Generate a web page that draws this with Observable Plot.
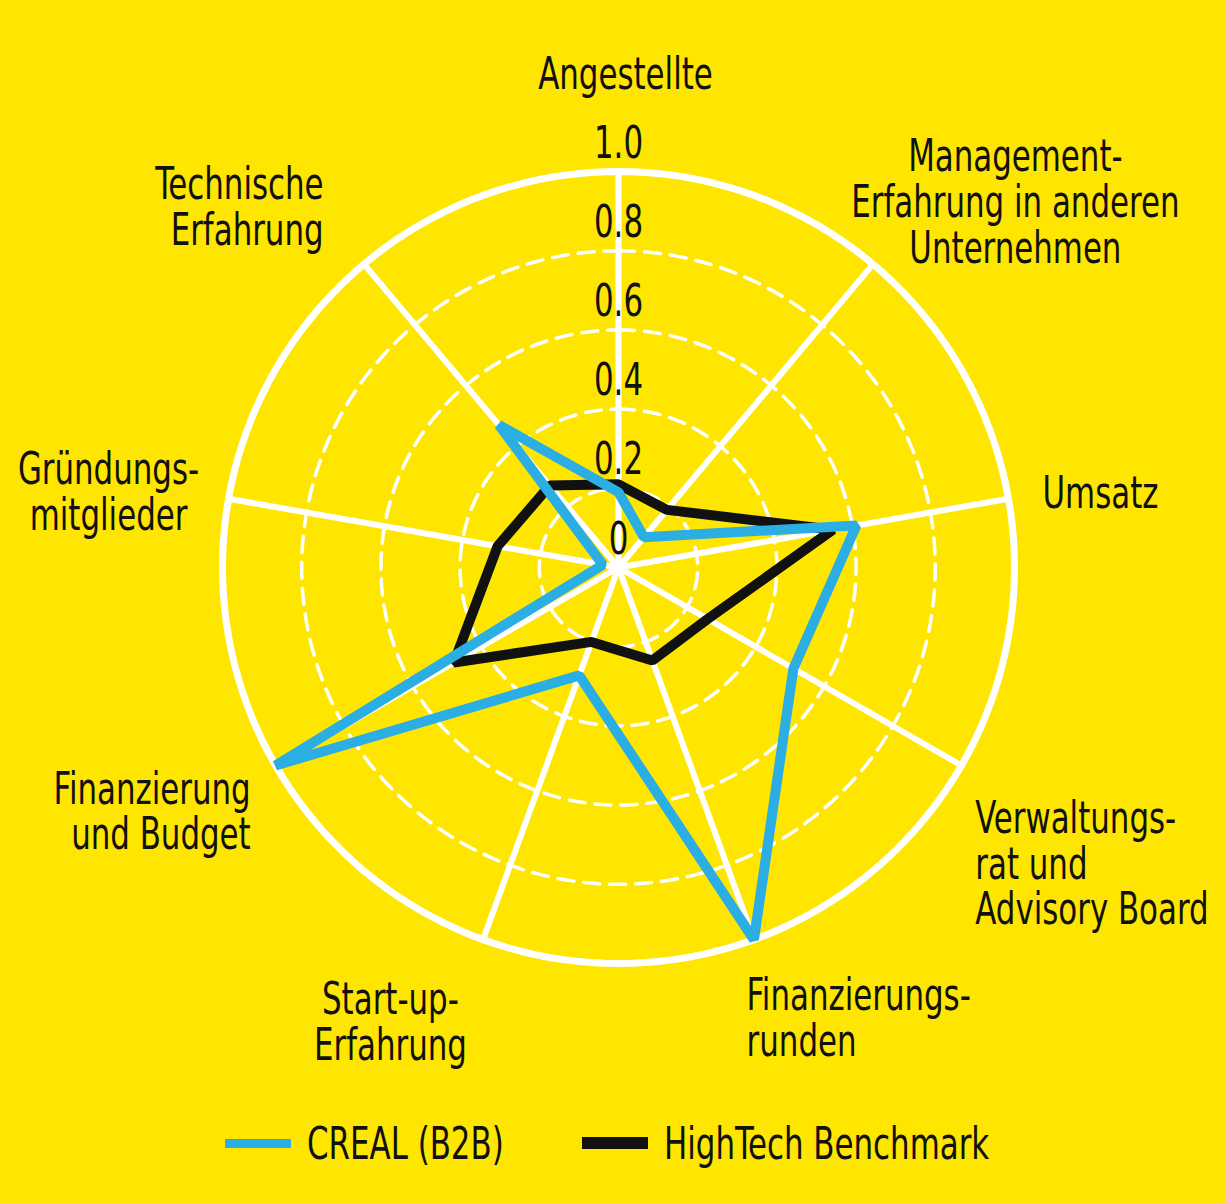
<!DOCTYPE html>
<html>
<head>
<meta charset="utf-8">
<script src="https://cdn.jsdelivr.net/npm/d3@7"></script>
<script src="https://cdn.jsdelivr.net/npm/@observablehq/plot@0.6"></script>
<style>
  html, body { margin: 0; padding: 0; background: #ffe600; }
  body { width: 1225px; height: 1203px; overflow: hidden;
         font-family: "DejaVu Sans Condensed", "DejaVu Sans", sans-serif; font-stretch: condensed; }
  #chart svg { display: block; }
  .legend { position: relative; height: 86px; font-size: 44px; color: #111; }
  .item { position: absolute; top: 0; height: 86px; display: flex; align-items: center; white-space: nowrap; }
  .sw { display: inline-block; width: 66px; margin-right: 16px; }
  .lt { display: inline-block; transform: scaleX(0.78); transform-origin: left center; }
</style>
</head>
<body>
<div id="chart"></div>
<div class="legend" id="legend"></div>
<script>
// ---- data ----
const axes = [
  "Angestellte",
  "Management-\nErfahrung in anderen\nUnternehmen",
  "Umsatz",
  "Verwaltungs-\nrat und\nAdvisory Board",
  "Finanzierungs-\nrunden",
  "Start-up-\nErfahrung",
  "Finanzierung\nund Budget",
  "Gründungs-\nmitglieder",
  "Technische\nErfahrung"
];
const creal     = [0.19, 0.10, 0.61, 0.51, 1.00, 0.29, 1.00, 0.04, 0.47];
const benchmark = [0.21, 0.19, 0.55, 0.26, 0.25, 0.20, 0.48, 0.31, 0.27];
const ticks      = [0, 0.2, 0.4, 0.6, 0.8, 1.0];
const tickLabels = ["0", "0.2", "0.4", "0.6", "0.8", "1.0"];
const seriesNames = ["CREAL (B2B)", "HighTech Benchmark"];

// ---- layout / style ----
const W = 1225, H = 1100, CX = 618, CY = 567, R = 396;
const BLUE = "#2aaee3", BLACK = "#111111", WHITE = "#ffffff";
const FONT = '"DejaVu Sans Condensed", "DejaVu Sans", sans-serif';
const SQUEEZE = 0.78; // horizontal condensing of the text to mimic the narrow typeface
// label placement: anchor and pixel nudge from the point at radius 1.3 on each axis
const labelAnchor = ["middle", "middle", "middle", "start", "start", "middle", "end", "middle", "end"];
const labelNudge  = [[7, 22], [66, 29], [-25, 15], [-89, 39], [-48, -33], [-52, -29], [78, -13], [-3, 14], [36, 34]];

const n = axes.length;
const angle = i => (i * 2 * Math.PI) / n;
const polar = (v, i) => ({ x: v * Math.sin(angle(i)), y: v * Math.cos(angle(i)) });

const series = [
  ...benchmark.map((v, i) => ({ series: seriesNames[1], i, ...polar(v, i) })),
  ...creal.map((v, i) => ({ series: seriesNames[0], i, ...polar(v, i) }))
];

const ringPts = ticks.filter(t => t > 0).flatMap(level =>
  d3.range(0, 361, 2).map(a => ({ level, x: level * Math.sin(a * Math.PI / 180), y: level * Math.cos(a * Math.PI / 180) }))
);

const spokes = axes.map((name, i) => ({ name, ...polar(1, i) }));

const labels = axes.map((name, i) => {
  const p = polar(1.3, i);
  return { name, anchor: labelAnchor[i], x: p.x + labelNudge[i][0] / R, y: p.y - labelNudge[i][1] / R };
});

const tickData = ticks.map((t, k) => ({ t, label: tickLabels[k] }));

const labelMark = anchor => Plot.text(labels.filter(d => d.anchor === anchor), {
  x: "x", y: "y", text: "name", textAnchor: anchor, lineAnchor: "middle",
  fontSize: 44, lineHeight: 1.04, fill: BLACK, fontFamily: FONT
});

const chart = Plot.plot({
  width: W, height: H, margin: 0,
  x: { domain: [-CX / R, (W - CX) / R], range: [0, W], axis: null },
  y: { domain: [-(H - CY) / R, CY / R], range: [H, 0], axis: null },
  style: { background: "transparent", fontFamily: FONT },
  marks: [
    Plot.line(ringPts.filter(d => d.level < 1), { x: "x", y: "y", z: "level", stroke: WHITE, strokeWidth: 3.5, strokeDasharray: "16,10" }),
    Plot.line(ringPts.filter(d => d.level === 1), { x: "x", y: "y", stroke: WHITE, strokeWidth: 7 }),
    Plot.link(spokes, { x1: 0, y1: 0, x2: "x", y2: "y", stroke: WHITE, strokeWidth: 6 }),
    Plot.text(tickData, { x: 0, y: "t", text: "label", dy: -28, fontSize: 44, fill: BLACK, fontFamily: FONT }),
    Plot.line(series.filter(d => d.series === seriesNames[1]), { x: "x", y: "y", curve: "linear-closed", stroke: BLACK, strokeWidth: 10, strokeLinejoin: "miter" }),
    Plot.line(series.filter(d => d.series === seriesNames[0]), { x: "x", y: "y", curve: "linear-closed", stroke: BLUE, strokeWidth: 10, strokeLinejoin: "miter" }),
    labelMark("middle"),
    labelMark("start"),
    labelMark("end")
  ]
});
// condense every text horizontally around its own anchor point
chart.querySelectorAll("text").forEach(t => {
  const tr = t.getAttribute("transform");
  if (tr) t.setAttribute("transform", tr + ` scale(${SQUEEZE},1)`);
});
document.getElementById("chart").appendChild(chart);

// legend
const legend = document.getElementById("legend");
const legendItems = [
  { name: seriesNames[0], color: BLUE, thick: 9, left: 225 },
  { name: seriesNames[1], color: BLACK, thick: 12, left: 582 }
];
for (const it of legendItems) {
  const div = document.createElement("div");
  div.className = "item";
  div.style.left = it.left + "px";
  const sw = document.createElement("span");
  sw.className = "sw";
  sw.style.background = it.color;
  sw.style.height = it.thick + "px";
  const tx = document.createElement("span");
  tx.className = "lt";
  tx.textContent = it.name;
  div.appendChild(sw);
  div.appendChild(tx);
  legend.appendChild(div);
}
</script>
</body>
</html>
